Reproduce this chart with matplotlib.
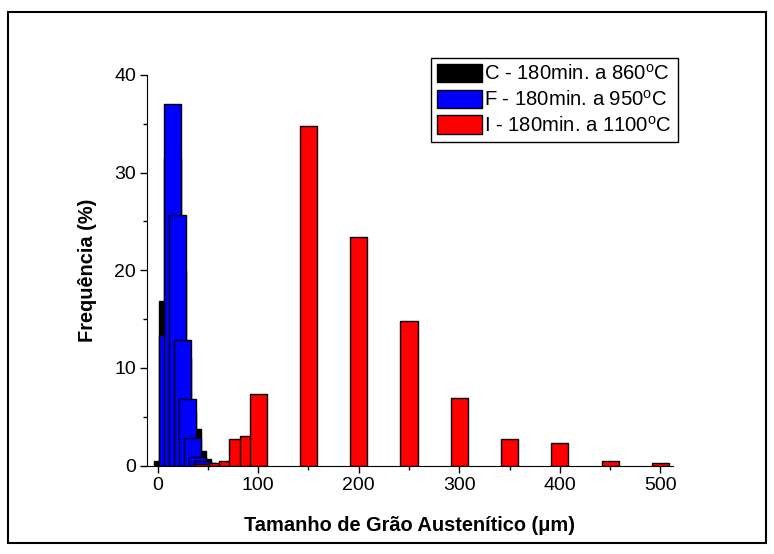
import matplotlib
matplotlib.use("Agg")
import matplotlib.pyplot as plt
from matplotlib.patches import Rectangle
from matplotlib.ticker import MultipleLocator

plt.rcParams["font.family"] = ["Liberation Sans", "DejaVu Sans"]
plt.rcParams["mathtext.fontset"] = "custom"
plt.rcParams["mathtext.rm"] = "Liberation Sans"

# C - 180 min at 860 C
c_x = [5, 10, 15, 20, 25, 30, 35, 40, 45, 50]
c_y = [0.5, 16.8, 31.5, 20.0, 11.0, 5.5, 3.7, 1.5, 0.7, 0.3]

# F - 180 min at 950 C
f_x = [10, 15, 20, 25, 30, 35, 40, 45]
f_y = [13.4, 37.0, 25.7, 12.9, 6.8, 2.8, 0.9, 0.5]

# I - 180 min at 1100 C
i_x = [45, 60, 70, 80, 90, 100, 150, 200, 250, 300, 350, 400, 450, 500]
i_y = [0.15, 0.3, 0.5, 2.7, 3.05, 7.3, 34.8, 23.4, 14.8, 6.9, 2.7, 2.3, 0.5, 0.3]

labels = [r"C - 180min. a 860$^\mathregular{o}$C",
          r"F - 180min. a 950$^\mathregular{o}$C",
          r"I - 180min. a 1100$^\mathregular{o}$C"]

fig = plt.figure(figsize=(7.74, 5.54), dpi=100)
ax = fig.add_axes([147 / 774, 1 - 465.5 / 554, 526 / 774, 390.5 / 554])

w = 17
ax.bar(c_x, c_y, width=w, color="black", edgecolor="black", linewidth=1, label=labels[0])
ax.bar(f_x, f_y, width=w, color="#0000ff", edgecolor="black", linewidth=1, label=labels[1])
ax.bar(i_x, i_y, width=w, color="#ff0000", edgecolor="black", linewidth=1, label=labels[2])

ax.set_xlim(-10.5, 512.5)
ax.set_ylim(0, 40)
ax.xaxis.set_major_locator(MultipleLocator(100))
ax.xaxis.set_minor_locator(MultipleLocator(50))
ax.yaxis.set_major_locator(MultipleLocator(10))
ax.yaxis.set_minor_locator(MultipleLocator(5))
ax.tick_params(which="major", direction="out", length=5, width=1, labelsize=14, pad=3)
ax.tick_params(which="minor", direction="out", length=3, width=1)

ax.spines["top"].set_visible(False)
ax.spines["right"].set_visible(False)

ax.set_xlabel("Tamanho de Grão Austenítico (μm)", fontsize=14.4, fontweight="bold", labelpad=16)
ax.set_ylabel("Frequência (%)", fontsize=14.4, fontweight="bold", labelpad=12)

leg = ax.legend(loc="upper right", bbox_to_anchor=(1.0095, 1.0435), borderaxespad=0,
                fontsize=14.6, frameon=True, fancybox=False, framealpha=1,
                handlelength=2.2, handleheight=1.0, handletextpad=0.12,
                labelspacing=0.28, borderpad=0.3)
leg.get_frame().set_edgecolor("black")
leg.get_frame().set_linewidth(1)

fig.patches.append(Rectangle((7.5 / 774, 1 - 543 / 554), (766 - 7.5) / 774, (543 - 12) / 554,
                             transform=fig.transFigure, fill=False, lw=1.5, ec="black"))

fig.savefig("out.png", dpi=100)
